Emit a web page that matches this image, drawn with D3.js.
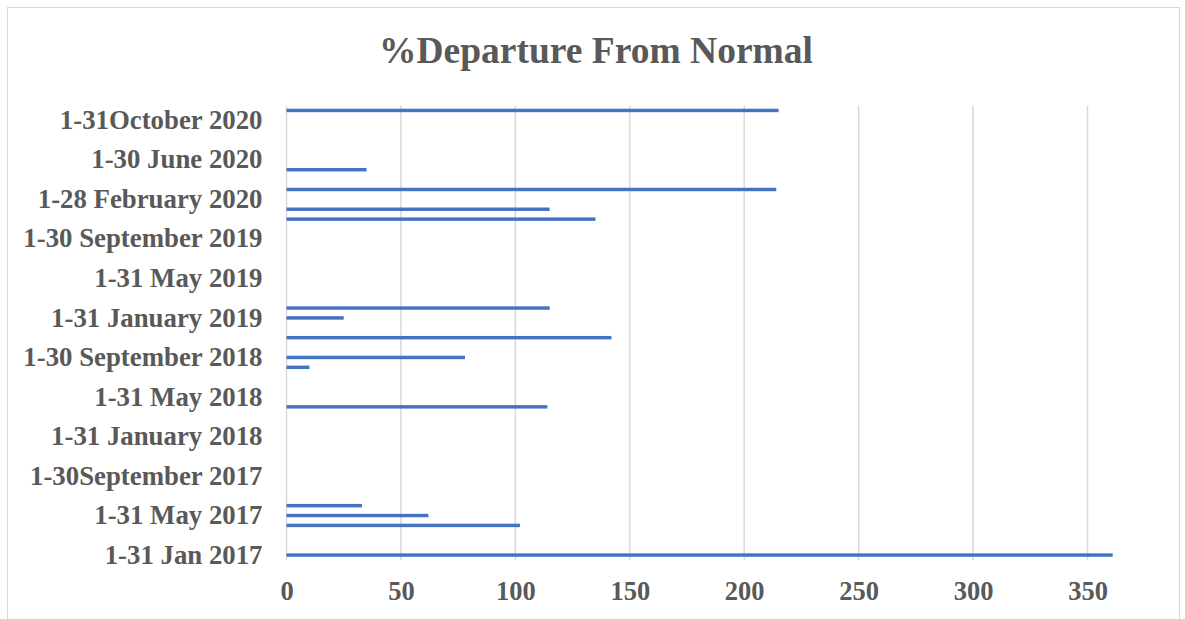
<!DOCTYPE html>
<html>
<head>
<meta charset="utf-8">
<script src="https://cdn.jsdelivr.net/npm/d3@7"></script>
<style>
  html, body { margin: 0; padding: 0; background: #ffffff; }
  svg { display: block; }
</style>
</head>
<body>
<svg id="chart" width="1185" height="619"></svg>
<script>
// ---- Data ----
const title = "%Departure From Normal";

const categories = [
  "1-31 Jan 2017", "1-28 February 2017", "1-31 March 2017", "1-30 April 2017",
  "1-31 May 2017", "1-30 June 2017", "1-31 July 2017", "1-31 August 2017",
  "1-30September 2017", "1-31 October 2017", "1-30 November 2017", "1-31 December 2017",
  "1-31 January 2018", "1-28 February 2018", "1-31 March 2018", "1-30 April 2018",
  "1-31 May 2018", "1-30 June 2018", "1-31 July 2018", "1-31 August 2018",
  "1-30 September 2018", "1-31 October 2018", "1-30 November 2018", "1-31 December 2018",
  "1-31 January 2019", "1-28 February 2019", "1-31 March 2019", "1-30 April 2019",
  "1-31 May 2019", "1-30 June 2019", "1-31 July 2019", "1-31 August 2019",
  "1-30 September 2019", "1-31 October 2019", "1-30 November 2019", "1-31 December 2019",
  "1-28 February 2020", "1-31 March 2020", "1-30 April 2020", "1-31 May 2020",
  "1-30 June 2020", "1-31 July 2020", "1-31 August 2020", "1-30 September 2020",
  "1-31October 2020", "1-30 November 2020"
];

const departure = [
  361, null, null, 102,
  62, 33, null, null,
  null, null, null, null,
  null, null, null, 114,
  null, null, null, 10,
  78, null, 142, null,
  25, 115, null, null,
  null, null, null, null,
  null, null, 135, 115,
  null, 214, null, 35,
  null, null, null, null,
  null, 215
];

const xTicks = [0, 50, 100, 150, 200, 250, 300, 350];
const labelEvery = 4;

// ---- Layout ----
const W = 1185, H = 619;
const plot = { left: 286.5, right: 1087.5, top: 105.5, bottom: 560 };
const textColor = "#595959";
const gridColor = "#d9d9d9";
const barColor = "#4472C4";
const font = "'Liberation Serif', 'Times New Roman', serif";

const svg = d3.select("#chart");

// chart border
svg.append("rect")
  .attr("x", 7.5).attr("y", 7.5)
  .attr("width", 1172).attr("height", 640)
  .attr("fill", "#ffffff")
  .attr("stroke", gridColor).attr("stroke-width", 1);

// title
svg.append("text")
  .attr("x", 596).attr("y", 63)
  .attr("text-anchor", "middle")
  .attr("font-family", font).attr("font-weight", "bold")
  .attr("font-size", 37.5).attr("fill", textColor)
  .text(title);

// scales
const x = d3.scaleLinear().domain([0, 350]).range([plot.left, plot.right]);
const y = d3.scaleBand()
  .domain(categories)
  .range([plot.bottom, plot.top])
  .paddingInner(0.65).paddingOuter(0.325);

// value axis
const xAxis = d3.axisBottom(x).tickValues(xTicks).tickSize(0).tickPadding(0);
const gx = svg.append("g")
  .attr("transform", `translate(0,${plot.bottom})`)
  .call(xAxis);
gx.select(".domain").remove();
gx.selectAll("text")
  .attr("font-family", font).attr("font-weight", "bold")
  .attr("font-size", 26.5).attr("fill", textColor)
  .attr("dy", null)
  .attr("y", 40);

// gridlines (vertical)
svg.append("g").selectAll("line")
  .data(xTicks)
  .join("line")
  .attr("x1", d => x(d)).attr("x2", d => x(d))
  .attr("y1", plot.top).attr("y2", plot.bottom)
  .attr("stroke", gridColor).attr("stroke-width", 1.5);

// category axis
const yAxis = d3.axisLeft(y)
  .tickValues(categories.filter((d, i) => i % labelEvery === 0))
  .tickSize(0).tickPadding(0);
const gy = svg.append("g")
  .attr("transform", `translate(${plot.left},0)`)
  .call(yAxis);
gy.select(".domain").remove();
gy.selectAll("text")
  .attr("font-family", font).attr("font-weight", "bold")
  .attr("font-size", 26.8).attr("fill", textColor)
  .attr("x", -24);

// bars
const rows = categories.map((c, i) => ({ c, v: departure[i] })).filter(d => d.v != null);
svg.append("g").selectAll("rect")
  .data(rows)
  .join("rect")
  .attr("x", x(0))
  .attr("y", d => y(d.c))
  .attr("width", d => x(d.v) - x(0))
  .attr("height", y.bandwidth())
  .attr("fill", barColor);
</script>
</body>
</html>
